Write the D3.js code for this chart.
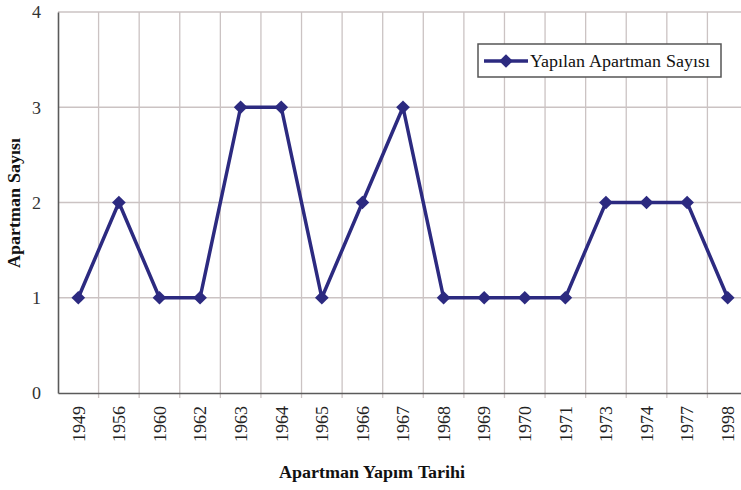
<!DOCTYPE html>
<html>
<head>
<meta charset="utf-8">
<script src="https://cdn.jsdelivr.net/npm/d3@7"></script>
<style>
  @font-face { font-family: "ChartSerif"; src: local("Liberation Serif"), local("LiberationSerif"); font-weight: normal; }
  @font-face { font-family: "ChartSerif"; src: local("Liberation Serif Bold"), local("LiberationSerif-Bold"); font-weight: bold; }
  html, body { margin: 0; padding: 0; background: #fff; }
  svg { display: block; font-family: "ChartSerif", "Liberation Serif", "Times New Roman", serif; }
</style>
</head>
<body>
<svg id="chart" width="741" height="490"></svg>
<script>
// Construction years and number of apartments built in each
const years = ["1949","1956","1960","1962","1963","1964","1965","1966","1967","1968","1969","1970","1971","1973","1974","1977","1998"];
const counts = [1, 2, 1, 1, 3, 3, 1, 2, 3, 1, 1, 1, 1, 2, 2, 2, 1];
const yTicks = [0, 1, 2, 3, 4];
const seriesName = "Yapılan Apartman Sayısı";

const svg = d3.select("#chart");
const margin = { left: 58, top: 12, bottom: 97 };
const plotRight = 748;
const H = 490;
const textFont = '"ChartSerif", "Liberation Serif", "Times New Roman", serif';

const x = d3.scaleBand().domain(years).range([margin.left, plotRight]).padding(0);
const y = d3.scaleLinear().domain([0, 4]).range([H - margin.bottom, margin.top]);

const gridColor = "#cbc3c3";
const lineColor = "#2c2a80";

// horizontal gridlines
svg.append("g").selectAll("line").data(yTicks.slice(1)).join("line")
  .attr("x1", margin.left).attr("x2", plotRight)
  .attr("y1", d => y(d)).attr("y2", d => y(d))
  .attr("stroke", gridColor).attr("stroke-width", 1.3);

// vertical gridlines at category boundaries
svg.append("g").selectAll("line").data(years.slice(1)).join("line")
  .attr("x1", d => x(d)).attr("x2", d => x(d))
  .attr("y1", y(4)).attr("y2", y(0) + 5)
  .attr("stroke", gridColor).attr("stroke-width", 1.3);

// axes
const yAxis = svg.append("g")
  .attr("transform", `translate(${margin.left},0)`)
  .call(d3.axisLeft(y).tickValues(yTicks).tickSize(0).tickPadding(17).tickFormat(d3.format("d")));
yAxis.attr("font-family", textFont);
yAxis.select(".domain").attr("stroke", "#5a5a5a").attr("stroke-width", 1.6);
yAxis.selectAll("text").attr("font-family", textFont).style("font-family", textFont)
  .attr("font-size", 18).attr("fill", "#333");

const xAxis = svg.append("g")
  .attr("transform", `translate(0,${y(0)})`)
  .call(d3.axisBottom(x).tickSize(0).tickPadding(0));
xAxis.attr("font-family", textFont);
xAxis.select(".domain").attr("stroke", "#5a5a5a").attr("stroke-width", 1.6);
xAxis.selectAll("text")
  .attr("font-family", textFont).style("font-family", textFont)
  .attr("font-size", 18).attr("fill", "#222")
  .attr("transform", "rotate(-90)")
  .attr("text-anchor", "end")
  .attr("dy", "0.35em")
  .attr("x", -13).attr("y", 0);

// data line
const line = d3.line()
  .x((d, i) => x(years[i]) + x.bandwidth() / 2)
  .y(d => y(d));
svg.append("path").datum(counts)
  .attr("d", line)
  .attr("fill", "none")
  .attr("stroke", lineColor)
  .attr("stroke-width", 3.5)
  .attr("stroke-linejoin", "round");

// diamond markers
const diamond = d3.symbol().type(d3.symbolDiamond2).size(120);
svg.append("g").selectAll("path").data(counts).join("path")
  .attr("d", diamond)
  .attr("transform", (d, i) => `translate(${x(years[i]) + x.bandwidth() / 2},${y(d)})`)
  .attr("fill", lineColor);

// axis titles
svg.append("text")
  .attr("x", 372).attr("y", 478)
  .attr("text-anchor", "middle")
  .attr("font-family", textFont).style("font-family", textFont)
  .attr("font-size", 18).attr("font-weight", "bold").attr("fill", "#111")
  .text("Apartman Yapım Tarihi");

svg.append("text")
  .attr("transform", `translate(20,${(y(0) + y(4)) / 2}) rotate(-90)`)
  .attr("text-anchor", "middle")
  .attr("font-family", textFont).style("font-family", textFont)
  .attr("font-size", 18).attr("font-weight", "bold").attr("fill", "#111")
  .text("Apartman Sayısı");

// legend
const lg = svg.append("g").attr("transform", "translate(478,44)");
lg.append("rect").attr("width", 243).attr("height", 33)
  .attr("fill", "#fff").attr("stroke", "#555").attr("stroke-width", 1.5);
lg.append("line").attr("x1", 6).attr("x2", 50).attr("y1", 17).attr("y2", 17)
  .attr("stroke", lineColor).attr("stroke-width", 3.5);
lg.append("path").attr("d", diamond).attr("transform", "translate(28,17)").attr("fill", lineColor);
lg.append("text").attr("x", 52).attr("y", 23)
  .attr("font-family", textFont).style("font-family", textFont)
  .attr("font-size", 18).attr("fill", "#111")
  .text(seriesName);
</script>
</body>
</html>
